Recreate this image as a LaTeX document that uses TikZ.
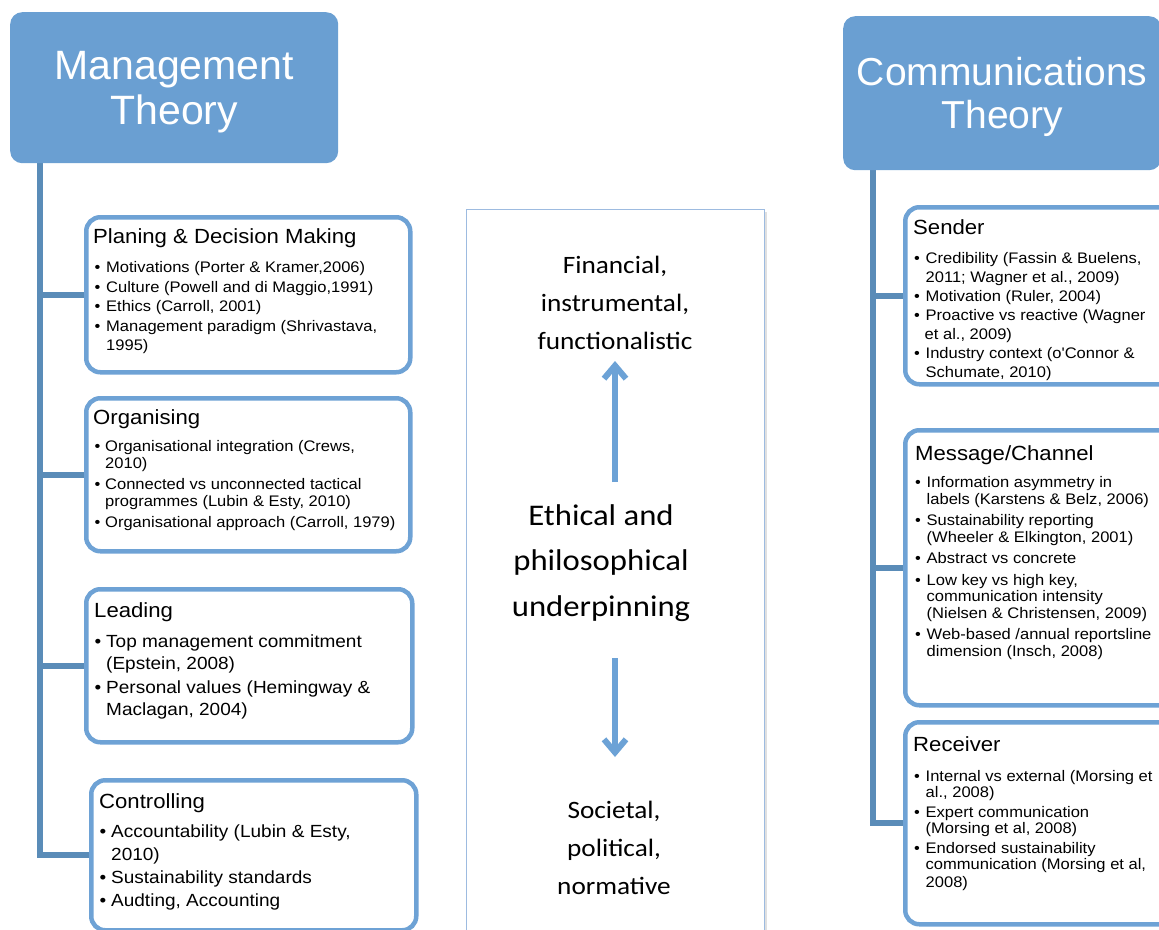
\documentclass[tikz,border=0pt]{standalone}
\usepackage{fontspec}
\setmainfont{Liberation Sans}
\newfontfamily\boxfont[FakeStretch=1.08]{Liberation Sans}
\newfontfamily\calfont[FakeStretch=1.09]{Carlito}
\usetikzlibrary{arrows.meta,backgrounds}
\definecolor{hdrblue}{HTML}{6A9FD2}
\definecolor{trunkblue}{HTML}{5A8CB8}
\definecolor{boxblue}{HTML}{6EA2D5}
\definecolor{centerline}{HTML}{9DBBE0}
\definecolor{arrowblue}{HTML}{6CA2D6}
\newcommand{\bl}[1][11.5pt]{\makebox[#1][l]{\textbullet}}
\newcommand{\ct}[1][11.5pt]{\hspace*{#1}}
\begin{document}
\begin{tikzpicture}[x=1pt,y=-1pt,
  hdr/.style={fill=hdrblue, rounded corners=12pt, text=white, align=center, inner sep=0pt, anchor=north west},
  hbox/.style={draw=boxblue, line width=4.5pt, fill=white, rounded corners=14pt, anchor=north west, inner sep=0pt},
  ttl/.style={anchor=base west, inner sep=0pt, font=\boxfont\fontsize{20.5}{24}\selectfont},
  lst/.style={anchor=north west, inner sep=0pt, align=left},
  trunk/.style={draw=trunkblue, line width=6pt, line join=miter},
  ctext/.style={align=center, inner sep=0pt, font=\calfont\fontsize{25}{38}\selectfont},
  arr/.style={draw=arrowblue, line width=6pt, -{Straight Barb[length=13pt,width=22pt]}}
]
\useasboundingbox (0,0) rectangle (1159,929);
\clip (0,0) rectangle (1159,929);

% ---------- left column ----------
\node[hdr, minimum width=328pt, minimum height=151pt] (mt) at (10,12) {};
\node[text=white, align=center, inner sep=0pt, font=\fontsize{41}{45}\selectfont] (mtT) at ([yshift=-4pt]mt.center) {Management\\Theory};
\coordinate (lt) at (40,160);

\node[hbox, minimum width=324pt, minimum height=155pt] (pdm) at (84,215) {};
\node[hbox, minimum width=324pt, minimum height=153pt] (org) at (84,396) {};
\node[hbox, minimum width=326pt, minimum height=153pt] (lead) at (84,587) {};
\node[hbox, minimum width=325pt, minimum height=150pt] (ctl) at (89,778) {};

\node[ttl] (pdmT) at (93,243) {Planing \& Decision Making};
\node[lst, font=\boxfont\fontsize{15.3}{19.5}\selectfont] (pdmL) at (94.5,261.3) {%
\bl Motivations (Porter \& Kramer,2006)\\
\bl Culture (Powell and di Maggio,1991)\\
\bl Ethics (Carroll, 2001)\\
\bl Management paradigm (Shrivastava,\\
\ct 1995)};

\node[ttl] (orgT) at (93,424) {Organising};
\node[lst, font=\boxfont\fontsize{15.3}{17}\selectfont] (orgL) at (94.5,440.3) {%
\bl[10.5pt]Organisational integration (Crews,\\
\ct[10.5pt]2010)\\[4pt]
\bl[10.5pt]Connected vs unconnected tactical\\
\ct[10.5pt]programmes (Lubin \& Esty, 2010)\\[4pt]
\bl[10.5pt]Organisational approach (Carroll, 1979)};

\node[ttl] (leadT) at (94,617) {Leading};
\node[lst, font=\boxfont\fontsize{17.6}{22}\selectfont] (leadL) at (94.5,634.5) {%
\bl Top management commitment\\
\ct (Epstein, 2008)\\[2pt]
\bl Personal values (Hemingway \&\\
\ct Maclagan, 2004)};

\node[ttl] (ctlT) at (99,808) {Controlling};
\node[lst, font=\boxfont\fontsize{17.6}{23}\selectfont] (ctlL) at (99.5,824.5) {%
\bl Accountability (Lubin \& Esty,\\
\ct 2010)\\
\bl Sustainability standards\\
\bl Audting, Accounting};

% ---------- centre ----------
\fill[black!12] (468,212) rectangle (767,940);
\node[draw=centerline, line width=1pt, fill=white, minimum width=298pt, minimum height=740pt, anchor=north west, inner sep=0pt] (cb) at (466,209) {};
\node[ctext] (fin) at (615,303) {Financial,\\instrumental,\\functionalistic};
\node[ctext, font=\calfont\fontsize{30}{45.5}\selectfont] (eth) at (601,563) {Ethical and\\philosophical\\underpinning};
\node[ctext] (soc) at (614,848) {Societal,\\political,\\normative};
\coordinate (upS) at (615,482);
\coordinate (upE) at (615,361);
\coordinate (dnS) at (615,658);
\coordinate (dnE) at (615,757);
\draw[arr] (upS) -- (upE);
\draw[arr] (dnS) -- (dnE);

% ---------- right column ----------
\node[hdr, minimum width=318pt, minimum height=154pt] (ct) at (843,16) {};
\node[text=white, align=center, inner sep=0pt, font=\fontsize{39}{43}\selectfont] (ctT) at ([yshift=-4pt]ct.center) {Communications\\Theory};
\coordinate (rt) at (873,167);

\node[hbox, minimum width=272pt, minimum height=177pt] (snd) at (903,205) {};
\node[hbox, minimum width=272pt, minimum height=275pt] (msg) at (903,428) {};
\node[hbox, minimum width=272pt, minimum height=202pt] (rcv) at (903,720) {};

\node[ttl] (sndT) at (913,234) {Sender};
\node[lst, font=\boxfont\fontsize{15.3}{19}\selectfont] (sndL) at (914,252.3) {%
\bl Credibility (Fassin \& Buelens,\\
\ct 2011; Wagner et al., 2009)\\
\bl Motivation (Ruler, 2004)\\
\bl Proactive vs reactive (Wagner\\
\ct[10.5pt]et al., 2009)\\
\bl Industry context (o'Connor \&\\
\ct Schumate, 2010)};

\node[ttl] (msgT) at (915,460) {Message/Channel};
\node[lst, font=\boxfont\fontsize{15.3}{16.5}\selectfont] (msgL) at (915,476.3) {%
\bl Information asymmetry in\\
\ct labels (Karstens \& Belz, 2006)\\[5pt]
\bl Sustainability reporting\\
\ct (Wheeler \& Elkington, 2001)\\[5pt]
\bl Abstract vs concrete\\[5pt]
\bl Low key vs high key,\\
\ct communication intensity\\
\ct (Nielsen \& Christensen, 2009)\\[5pt]
\bl Web-based /annual reportsline\\
\ct dimension (Insch, 2008)};

\node[ttl] (rcvT) at (913,751) {Receiver};
\node[lst, font=\boxfont\fontsize{15.3}{15.5}\selectfont] (rcvL) at (914,770.3) {%
\bl Internal vs external (Morsing et\\
\ct al., 2008)\\[5pt]
\bl Expert communication\\
\ct (Morsing et al, 2008)\\[5pt]
\bl Endorsed sustainability\\
\ct communication (Morsing et al,\\[3pt]
\ct 2008)};

% ---------- connectors (behind boxes) ----------
\begin{scope}[on background layer]
  \draw[trunk] (lt) |- (ctl.west);
  \draw[trunk] (lt |- pdm.west) -- (pdm.west);
  \draw[trunk] (lt |- org.west) -- (org.west);
  \draw[trunk] (lt |- lead.west) -- (lead.west);
  \draw[trunk] (rt) |- (rcv.west);
  \draw[trunk] (rt |- snd.west) -- (snd.west);
  \draw[trunk] (rt |- msg.west) -- (msg.west);
\end{scope}
\end{tikzpicture}
\end{document}
